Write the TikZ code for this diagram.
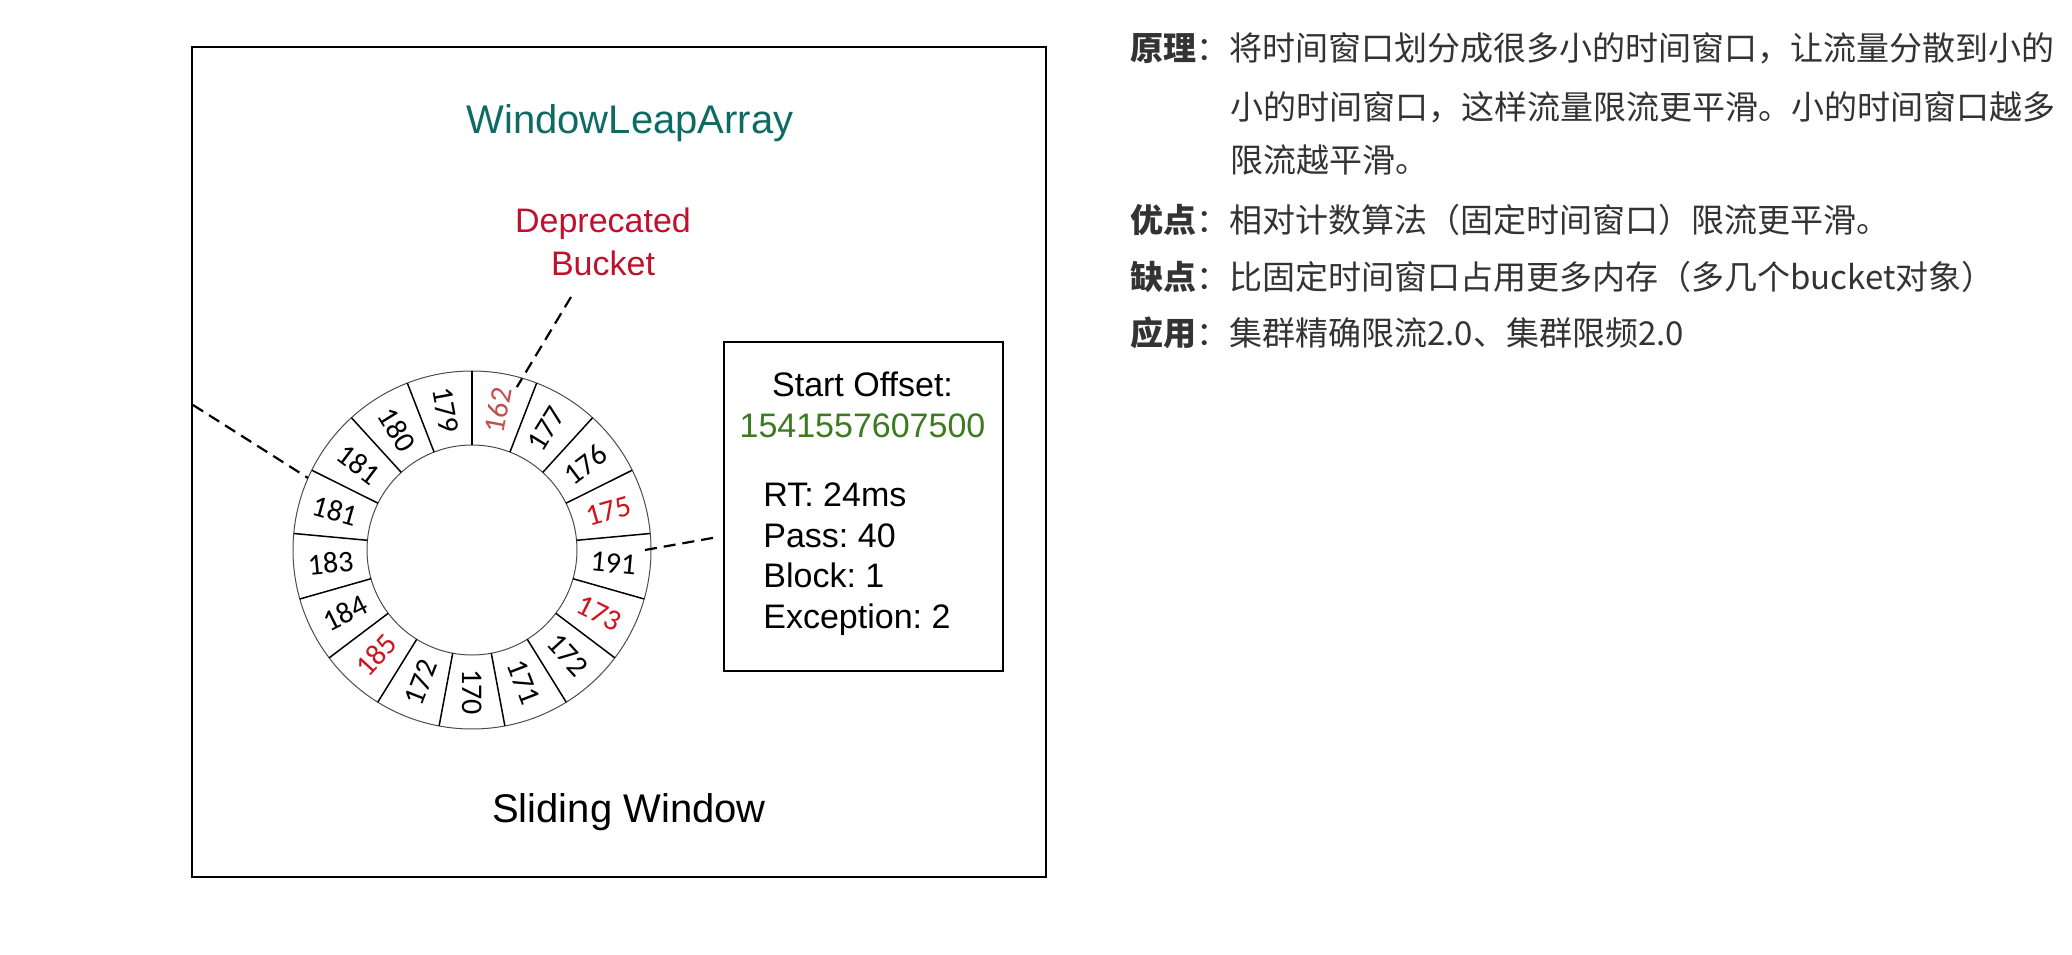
\documentclass[tikz,border=0pt]{standalone}
\usepackage{fontspec}
\setmainfont{Liberation Sans}
\newfontfamily\cjk{Noto Sans CJK SC}
\newfontfamily\numfont{Carlito}
\usetikzlibrary{calc}
\frenchspacing

\definecolor{tealtxt}{HTML}{0E6B64}
\definecolor{deepred}{HTML}{C0102E}
\definecolor{oldred}{HTML}{C0504D}
\definecolor{hotred}{HTML}{D0121B}
\definecolor{offgreen}{HTML}{3B7A1E}
\definecolor{cjkgray}{HTML}{333333}

\tikzset{
  ringnum/.style={font=\numfont\fontsize{15}{15}\selectfont, inner sep=0pt},
  boxtxt/.style={font=\fontsize{17}{17}\selectfont, inner sep=0pt},
  bigtxt/.style={font=\fontsize{20}{20}\selectfont, inner sep=0pt, anchor=base},
  note/.style={font=\cjk\fontsize{16.5}{16.5}\selectfont, text=cjkgray, inner sep=0pt, anchor=base west},
  leader/.style={draw, line width=1.1pt, dash pattern=on 6pt off 3.5pt},
}

\begin{document}
\begin{tikzpicture}[x=0.5pt, y=0.5pt]
\useasboundingbox (0,0) rectangle (2072,954);

% the window frame
\node[draw, line width=1.15pt, minimum width=427pt, minimum height=415pt, inner sep=0pt] (win) at (619,492) {};
\node[bigtxt, text=tealtxt] (wla) at (630,820) {WindowLeapArray};
\node[bigtxt, font=\fontsize{17}{17}\selectfont, text=deepred] (depr) at (603,721) {Deprecated};
\node[bigtxt, font=\fontsize{17}{17}\selectfont, text=deepred] (bkt) at (603,678) {Bucket};
\node[bigtxt] (slide) at (629,132) {Sliding Window};

% ring of buckets
\coordinate (ring) at (472,404);
\draw[gray!60!black, line width=0.5pt] (ring) circle[radius=89.5pt] (ring) circle[radius=52.5pt];
\foreach \k [evaluate=\k as \ang using 90-\k*360/17] in {0,...,16}
  \draw[line width=0.75pt] ($(ring)+(\ang:105)$) -- ($(ring)+(\ang:179)$);
\foreach \num/\col [count=\k from 0] in {162/oldred,177/black,176/black,175/hotred,191/black,173/hotred,
    172/black,171/black,170/black,172/black,185/hotred,184/black,183/black,181/black,181/black,180/black,179/black} {
  \pgfmathsetmacro\ang{79.4118-\k*21.1765}
  \pgfmathsetmacro\rot{\k>8 ? \ang+180 : \ang}
  \node[ringnum, text=\col, rotate=\rot] (b\k) at ($(ring)+(\ang:142)$) {\num};
}

% bucket details
\node[draw, line width=1.15pt, minimum width=139.5pt, minimum height=164.5pt, inner sep=0pt] (info) at (863.5,447.5) {};
\node[boxtxt, anchor=base] (offs) at (862.5,557) {Start Offset:};
\node[boxtxt, anchor=base, text=offgreen] (offv) at (862.5,516) {1541557607500};
\node[boxtxt, anchor=base west] (rt) at (763,447) {RT: 24ms};
\node[boxtxt, anchor=base west] (pass) at (763,406.5) {Pass: 40};
\node[boxtxt, anchor=base west] (block) at (763,366) {Block: 1};
\node[boxtxt, anchor=base west] (exc) at (763,325.5) {Exception: 2};

% dashed leaders
\coordinate (depfoot) at (571,657);
\coordinate (hit162) at ($(ring)+(74.6:169)$);
\coordinate (winleft) at (193,549);
\coordinate (hit181) at ($(ring)+(156.3:179)$);
\coordinate (hit191) at ($(ring)+(0:173)$);
\coordinate (infoleft) at (718,417);
\draw[leader] (depfoot) -- (hit162);
\draw[leader] (winleft) -- (hit181);
\draw[leader] (hit191) -- (infoleft);

% notes
\node[note] (yl) at (1130,893.3) {\textbf{原理}：将时间窗口划分成很多小的时间窗口，让流量分散到小的};
\node[note] (yl2) at (1230,834.3) {小的时间窗口，这样流量限流更平滑。小的时间窗口越多};
\node[note] (yl3) at (1230,781.6) {限流越平滑。};
\node[note] (yd) at (1130,721.6) {\textbf{优点}：相对计数算法（固定时间窗口）限流更平滑。};
\node[note] (qd) at (1130,664.9) {\textbf{缺点}：比固定时间窗口占用更多内存（多几个bucket对象）};
\node[note] (yy) at (1130,608.3) {\textbf{应用}：集群精确限流2.0、集群限频2.0};
\end{tikzpicture}
\end{document}
